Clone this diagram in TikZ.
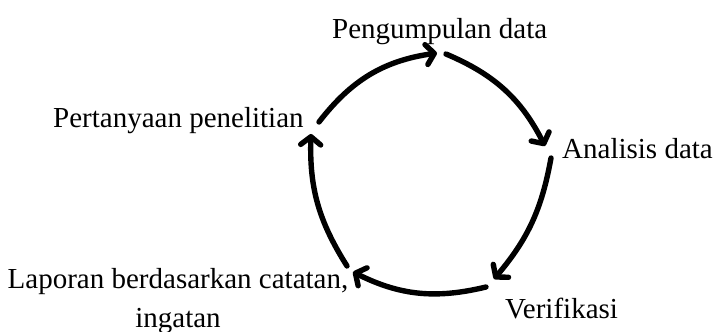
\documentclass[tikz,border=0pt]{standalone}
\usepackage{fontspec}
\setmainfont{Liberation Serif}
\usetikzlibrary{arrows.meta}
\begin{document}
\begin{tikzpicture}[x=1pt,y=-1pt,
  lbl/.style={inner sep=0pt,font=\fontsize{29}{39}\selectfont},
  cyc/.style={line width=5.4pt,line cap=round,
    -{Straight Barb[length=8pt,width=20pt,round]}}]
\useasboundingbox (0,0) rectangle (713,332);
\node[lbl,anchor=base west] (peng) at (332,38) {Pengumpulan data};
\node[lbl,anchor=base west] (anal) at (562,158) {Analisis data};
\node[lbl,anchor=base west] (veri) at (505,318) {Verifikasi};
\node[lbl,anchor=base] (lap) at (178,288) {Laporan berdasarkan catatan,};
\node[lbl,anchor=base] (lapb) at (178,327) {ingatan};
\node[lbl,anchor=base west] (pert) at (53,127) {Pertanyaan penelitian};
\coordinate (s1) at (319,122); \coordinate (e1) at (437,53);
\coordinate (s2) at (446,54);  \coordinate (e2) at (545,146);
\coordinate (s3) at (551,158); \coordinate (e3) at (494,279);
\coordinate (s4) at (486,287); \coordinate (e4) at (353,272);
\coordinate (s5) at (347,266); \coordinate (e5) at (311,134);
\draw[cyc] (s1) to[bend left=22] (e1);
\draw[cyc] (s2) to[bend left=20] (e2);
\draw[cyc] (s3) to[bend left=15] (e3);
\draw[cyc] (s4) to[bend left=20] (e4);
\draw[cyc] (s5) to[bend left=17] (e5);
\end{tikzpicture}
\end{document}
